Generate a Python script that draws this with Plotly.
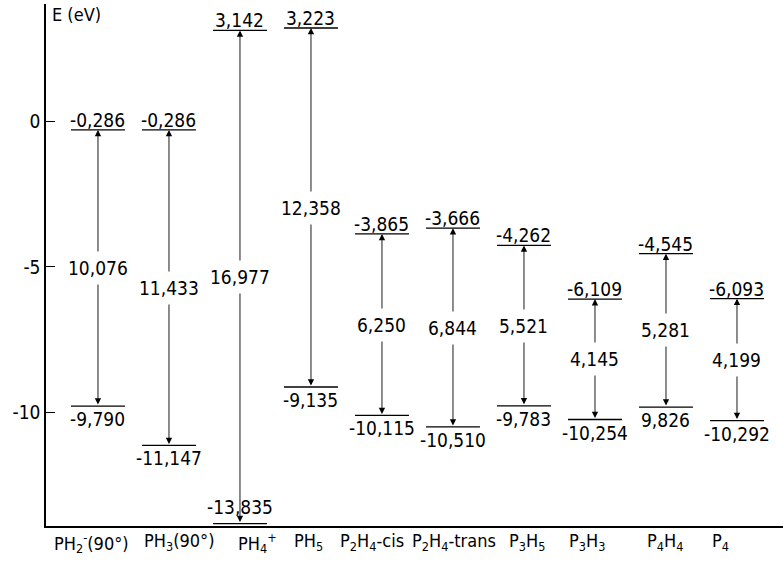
import plotly.graph_objects as go

# ---- data ----
molecules = ["PH<sub>2</sub><sup>-</sup>(90°)", "PH<sub>3</sub>(90°)", "PH<sub>4</sub><sup>+</sup>", "PH<sub>5</sub>",
             "P<sub>2</sub>H<sub>4</sub>-cis", "P<sub>2</sub>H<sub>4</sub>-trans", "P<sub>3</sub>H<sub>5</sub>",
             "P<sub>3</sub>H<sub>3</sub>", "P<sub>4</sub>H<sub>4</sub>", "P<sub>4</sub>"]
upper = [-0.286, -0.286, 3.142, 3.223, -3.865, -3.666, -4.262, -6.109, -4.545, -6.093]
lower = [-9.790, -11.147, -13.835, -9.135, -10.115, -10.510, -9.783, -10.254, -9.826, -10.292]
gap = [10.076, 11.433, 16.977, 12.358, 6.250, 6.844, 5.521, 4.145, 5.281, 4.199]
upper_text = ["-0,286", "-0,286", "3,142", "3,223", "-3,865", "-3,666", "-4,262", "-6,109", "-4,545", "-6,093"]
lower_text = ["-9,790", "-11,147", "-13,835", "-9,135", "-10,115", "-10,510", "-9,783", "-10,254", "9,826", "-10,292"]
gap_text = ["10,076", "11,433", "16,977", "12,358", "6,250", "6,844", "5,521", "4,145", "5,281", "4,199"]
ytick_vals = [0, -5, -10]
ytick_text = ["0", "-5", "-10"]

# layout-only: horizontal nudges (px) of the category captions, as in the original drawing
caption_dx = [-6, 11, 18, -2, -10, 1, 3, -8, -1, -16]

FONT = "DejaVu Sans Condensed, Liberation Sans Narrow, DejaVu Sans, sans-serif"
FS = 19
FL = 19
HALF = 0.38
YMIN, YMAX = -13.92, 4.05

fig = go.Figure()

# level lines
lx, ly = [], []
for i, (u, l) in enumerate(zip(upper, lower)):
    for v in (u, l):
        lx += [i - HALF, i + HALF, None]
        ly += [v, v, None]
fig.add_trace(go.Scatter(x=lx, y=ly, mode="lines", line=dict(color="black", width=1.3),
                         hoverinfo="skip", showlegend=False))

ann = []
for i in range(len(molecules)):
    u, l = upper[i], lower[i]
    # double arrow
    ann.append(dict(x=i, y=u, ax=i, ay=l, xref="x", yref="y", axref="x", ayref="y",
                    text="", showarrow=True, arrowhead=2, arrowside="end+start",
                    arrowsize=1.4, arrowwidth=0.9, arrowcolor="black", standoff=0, startstandoff=0))
    # gap label
    ann.append(dict(x=i, y=(u + l) / 2, xref="x", yref="y", text=gap_text[i], showarrow=False,
                    bgcolor="white", borderpad=5, font=dict(family=FONT, size=FS, color="black")))
    # upper level label
    ann.append(dict(x=i, y=u, xref="x", yref="y", text=upper_text[i], showarrow=False,
                    yanchor="bottom", yshift=-3, font=dict(family=FONT, size=FL, color="black")))
    # lower level label
    if l - YMIN < 0.6:
        ann.append(dict(x=i, y=l, xref="x", yref="y", text=lower_text[i], showarrow=False,
                        yanchor="bottom", yshift=4, font=dict(family=FONT, size=FL, color="black")))
    else:
        ann.append(dict(x=i, y=l, xref="x", yref="y", text=lower_text[i], showarrow=False,
                        yanchor="top", yshift=0, font=dict(family=FONT, size=FL, color="black")))
    # category caption below the axis
    ann.append(dict(x=i, y=0, xref="x", yref="paper", text=molecules[i], showarrow=False,
                    yanchor="top", yshift=-2, xshift=caption_dx[i],
                    font=dict(family=FONT, size=18, color="black")))

ann.append(dict(x=0, y=1, xref="paper", yref="paper", xanchor="left", yanchor="top",
                xshift=4, yshift=2, text="E (eV)", showarrow=False,
                font=dict(family=FONT, size=18, color="black")))

fig.update_layout(
    width=783, height=564,
    margin=dict(l=46, r=0, t=4, b=38),
    paper_bgcolor="white", plot_bgcolor="white",
    showlegend=False,
    annotations=ann,
    font=dict(family=FONT, size=FS, color="black"),
    xaxis=dict(range=[-0.732, 9.648], showticklabels=False,
               showgrid=False, zeroline=False, showline=True, linecolor="black", linewidth=1.5,
               ticks="", automargin=False),
    yaxis=dict(range=[YMIN, YMAX], tickvals=ytick_vals, ticktext=ytick_text,
               showgrid=False, zeroline=False, showline=True, linecolor="black", linewidth=1.5,
               ticks="inside", ticklen=9, tickwidth=1, tickcolor="black", automargin=False,
               tickfont=dict(family=FONT, size=FL, color="black")),
)

fig.write_html("out.html", config={"displayModeBar": False},
               post_script="document.body.style.margin='0';document.body.style.padding='0';")
